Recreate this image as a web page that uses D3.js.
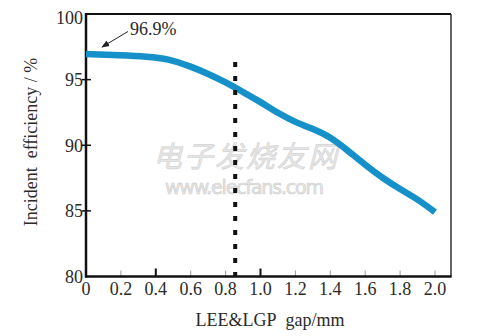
<!DOCTYPE html>
<html><head><meta charset="utf-8">
<script src="https://cdn.jsdelivr.net/npm/d3@7/dist/d3.min.js"></script>
<style>html,body{margin:0;padding:0;background:#fff;}svg{display:block;}</style>
</head><body>
<script>
const gapValues = [0, 0.2, 0.35, 0.47, 0.6, 0.7, 0.8, 0.9, 1.0, 1.1, 1.2, 1.3, 1.4, 1.5, 1.6, 1.7, 1.8, 1.9, 2.0];
const efficiency = [96.95, 96.85, 96.75, 96.6, 96.0, 95.45, 94.8, 94.05, 93.3, 92.45, 91.75, 91.25, 90.65, 89.6, 88.5, 87.5, 86.65, 85.9, 84.9];
const xTicks = [0, 0.2, 0.4, 0.6, 0.8, 1.0, 1.2, 1.4, 1.6, 1.8, 2.0];
const xTickLabels = ["0", "0.2", "0.4", "0.6", "0.8", "1.0", "1.2", "1.4", "1.6", "1.8", "2.0"];
const majorXTicks = [0.4, 1.0];
const yTicks = [80, 85, 90, 95, 100];
const markerGap = 0.855;
const peakLabel = "96.9%";
const xTitle = "LEE&LGP\u00a0\u00a0gap/mm";
const yTitle = "Incident\u00a0\u00a0efficiency / %";

(function () {
const W = 497, H = 336;
const pLeft = 86, pRight = 451, pTop = 14, pBottom = 276.5;
const svg = d3.select("body").append("svg").attr("width", W).attr("height", H);
const font = "'Liberation Serif', 'DejaVu Serif', serif";
const fs = 18;

const x = d3.scaleLinear().domain([0, 2.0]).range([86, 435]);
const y = d3.scaleLinear().domain([80, 100]).range([pBottom, pTop]);

// watermark
const wm = svg.append("g");
wm.append("text").attr("x", 153).attr("y", 167).attr("font-family", "'Noto Sans CJK SC', sans-serif")
  .attr("font-size", 29).attr("font-style", "italic").attr("fill", "#e6e6e6").attr("letter-spacing", 2)
  .attr("stroke", "#d2d2d2").attr("stroke-width", 0.6)
  .text("电子发烧友网");
wm.append("text").attr("x", 165).attr("y", 194).attr("font-family", "'DejaVu Sans', sans-serif")
  .attr("font-size", 19).attr("fill", "#e8e8e8").attr("stroke", "#cccccc").attr("stroke-width", 0.6)
  .attr("letter-spacing", -1.2)
  .text("www.elecfans.com");

// frame
svg.append("line").attr("x1", pLeft).attr("x2", pRight).attr("y1", pTop).attr("y2", pTop).attr("stroke", "#111").attr("stroke-width", 2);
svg.append("line").attr("x1", pRight).attr("x2", pRight).attr("y1", pTop).attr("y2", pBottom).attr("stroke", "#111").attr("stroke-width", 1.3);

// x ticks (inward)
const xg = svg.append("g");
xTicks.forEach((t, i) => {
  const major = majorXTicks.includes(t);
  if (t > 0) {
    xg.append("line").attr("x1", x(t)).attr("x2", x(t)).attr("y1", pBottom).attr("y2", pBottom - (major ? 8 : 6))
      .attr("stroke", major ? "#111" : "#9a9a9a").attr("stroke-width", major ? 2 : 1);
  }
  xg.append("text").attr("x", x(t)).attr("y", 295).attr("text-anchor", "middle")
    .attr("font-family", font).attr("font-size", fs).attr("fill", "#2a2a2a").text(xTickLabels[i]);
});

// y ticks
const yg = svg.append("g");
yTicks.forEach(t => {
  if (t > 80 && t < 100) {
    yg.append("line").attr("x1", pLeft - 4).attr("x2", pLeft + 5).attr("y1", y(t)).attr("y2", y(t))
      .attr("stroke", "#111").attr("stroke-width", 1.5);
  }
  yg.append("text").attr("x", 83).attr("y", y(t) + (t === 100 ? 3.5 : 0)).attr("dy", "0.35em").attr("text-anchor", "end")
    .attr("font-family", font).attr("font-size", fs).attr("fill", "#2a2a2a").text(t);
});

// axis lines
svg.append("line").attr("x1", pLeft).attr("x2", pLeft).attr("y1", pTop - 1).attr("y2", pBottom + 1).attr("stroke", "#111").attr("stroke-width", 2.5);
svg.append("line").attr("x1", pLeft - 1).attr("x2", pRight + 0.6).attr("y1", pBottom).attr("y2", pBottom).attr("stroke", "#111").attr("stroke-width", 2.5);

// curve
const pts = gapValues.map((g, i) => [g, efficiency[i]]);
svg.append("path").datum(pts)
  .attr("d", d3.line().x(d => x(d[0])).y(d => y(d[1])).curve(d3.curveBasis))
  .attr("fill", "none").attr("stroke", "#1690c8").attr("stroke-width", 6.5).attr("stroke-linecap", "butt").attr("stroke-linejoin", "round");

// dotted marker line
svg.append("line").attr("x1", x(markerGap)).attr("x2", x(markerGap)).attr("y1", 62).attr("y2", 282)
  .attr("stroke", "#111").attr("stroke-width", 4).attr("stroke-dasharray", "5,9");

// annotation arrow
const defs = svg.append("defs");
defs.append("marker").attr("id", "ah").attr("viewBox", "0 0 10 10").attr("refX", 9).attr("refY", 5)
  .attr("markerWidth", 8).attr("markerHeight", 8).attr("markerUnits", "userSpaceOnUse").attr("orient", "auto")
  .append("path").attr("d", "M0,1 L10,5 L0,9 Z").attr("fill", "#222");
svg.append("line").attr("x1", 128).attr("y1", 31.5).attr("x2", 102).attr("y2", 47)
  .attr("stroke", "#222").attr("stroke-width", 1).attr("marker-end", "url(#ah)");
svg.append("text").attr("x", 130).attr("y", 35).attr("font-family", font).attr("font-size", fs).attr("fill", "#2a2a2a").text(peakLabel);

// titles
svg.append("text").attr("x", 270).attr("y", 326).attr("text-anchor", "middle")
  .attr("font-family", font).attr("font-size", fs).attr("fill", "#2a2a2a").text(xTitle);
svg.append("text").attr("transform", "translate(37,142) rotate(-90)").attr("text-anchor", "middle")
  .attr("font-family", font).attr("font-size", fs).attr("fill", "#2a2a2a").text(yTitle);
})();
</script>
</body></html>
